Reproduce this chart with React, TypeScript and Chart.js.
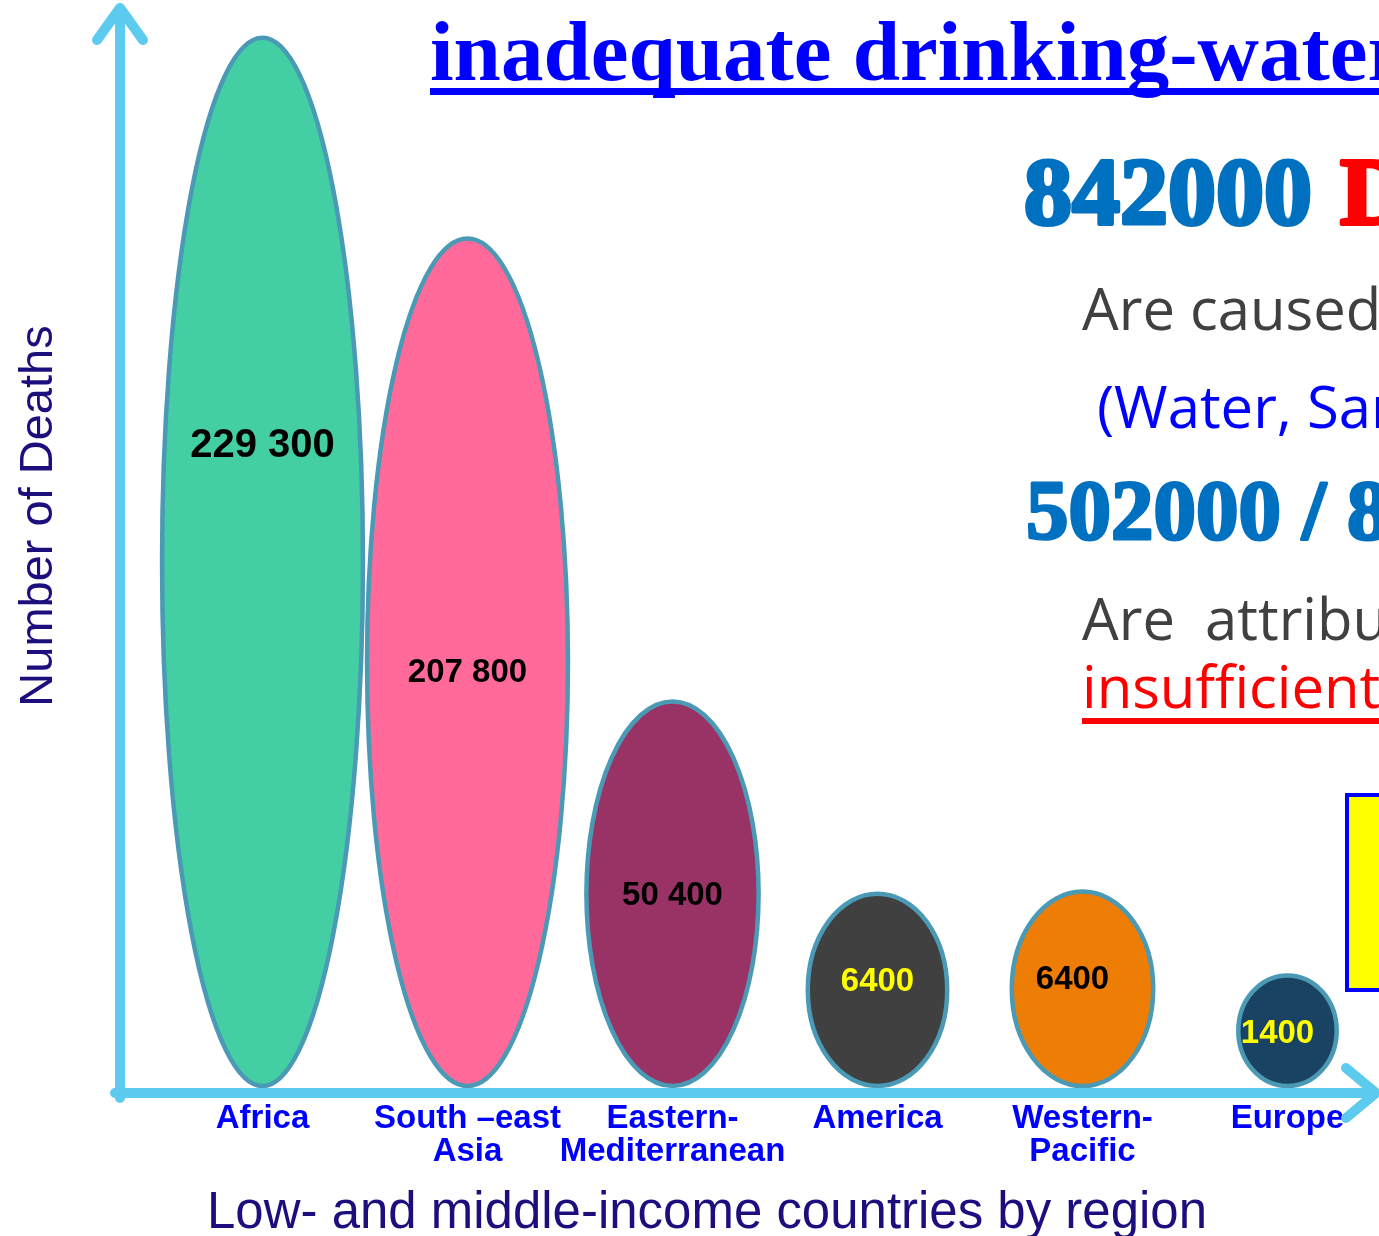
import React, { useEffect, useRef } from 'react';
import { Chart, registerables } from 'chart.js';

Chart.register(...registerables);

// ---- data ----
const regions = ['Africa', 'South –east Asia', 'Eastern-Mediterranean', 'America', 'Western-Pacific', 'Europe'];
const regionTickLabels = [['Africa'], ['South –east', 'Asia'], ['Eastern-', 'Mediterranean'], ['America'], ['Western-', 'Pacific'], ['Europe']];
const deaths = [229300, 207800, 50400, 6400, 6400, 1400];
// visual height of each ellipse (0-100 scale)
const bubbleHeight = [97.6, 78.9, 35.8, 17.9, 18.1, 10.3];

// ---- styles ----
const fillColors = ['#43CFA3', '#FF6A9A', '#993366', '#404040', '#EE7D05', '#1A4262'];
const labelColors = ['#000000', '#000000', '#000000', '#FFFF00', '#000000', '#FFFF00'];
const labelSizes = [40, 33, 33, 33, 33, 33];
const labelDy = [-116, 11, 2, -8, -9, 3];
const labelDx = [0, 0, 0, 0, -10, -10];
const widthShare = [0.98, 0.98, 0.84, 0.68, 0.69, 0.48];
const AXIS_COLOR = '#5DCBEF';
const OUTLINE = '#4A9AB5';
const TITLE_COLOR = '#1D0E7E';

const fmt = (n: number) => (n >= 10000 ? n.toLocaleString('en-US').replace(/,/g, ' ') : String(n));

const heavyText = (ctx: CanvasRenderingContext2D, s: string, x: number, y: number, w: number) => {
  ctx.lineWidth = w;
  ctx.lineJoin = 'round';
  ctx.strokeStyle = ctx.fillStyle as string;
  ctx.strokeText(s, x, y);
  ctx.fillText(s, x, y);
};

const drawPlugin = {
  id: 'infographic',
  afterDatasetsDraw(chart: any) {
    const ctx: CanvasRenderingContext2D = chart.ctx;
    const area = chart.chartArea;
    ctx.save();
    // ellipses
    chart.data.datasets.forEach((ds: any, i: number) => {
      const meta = chart.getDatasetMeta(i);
      meta.data.forEach((el: any, j: number) => {
        if (ds.data[j] == null) return;
        const p = el.getProps(['x', 'y', 'base', 'width'], true);
        const cx = p.x;
        const cy = (p.y + p.base) / 2;
        const rx = p.width / 2;
        const ry = Math.abs(p.base - p.y) / 2;
        ctx.beginPath();
        ctx.ellipse(cx, cy, rx, ry, 0, 0, Math.PI * 2);
        ctx.fillStyle = fillColors[i];
        ctx.fill();
        ctx.lineWidth = 4.5;
        ctx.strokeStyle = OUTLINE;
        ctx.stroke();
      });
    });

    // axes arrows
    const ax = area.left - 40;
    const ay = area.bottom + 7;
    ctx.strokeStyle = AXIS_COLOR;
    ctx.lineWidth = 10;
    ctx.lineCap = 'round';
    ctx.lineJoin = 'round';
    ctx.beginPath();
    ctx.moveTo(ax, ay + 5);
    ctx.lineTo(ax, 8);
    ctx.moveTo(ax - 23, 40);
    ctx.lineTo(ax, 8);
    ctx.lineTo(ax + 23, 40);
    ctx.stroke();
    ctx.beginPath();
    ctx.moveTo(ax - 5, ay);
    ctx.lineTo(1376, ay);
    ctx.moveTo(1346, ay - 25);
    ctx.lineTo(1376, ay);
    ctx.lineTo(1346, ay + 25);
    ctx.stroke();

    // value labels
    ctx.textAlign = 'center';
    ctx.textBaseline = 'middle';
    chart.data.datasets.forEach((ds: any, i: number) => {
      const meta = chart.getDatasetMeta(i);
      const el: any = meta.data[i];
      const p = el.getProps(['x', 'y', 'base'], true);
      ctx.font = `bold ${labelSizes[i]}px "Liberation Sans", Arial, sans-serif`;
      ctx.fillStyle = labelColors[i];
      ctx.fillText(fmt(deaths[i]), p.x + labelDx[i], (p.y + p.base) / 2 + labelDy[i]);
    });

    // axis titles
    ctx.fillStyle = TITLE_COLOR;
    ctx.textBaseline = 'alphabetic';
    ctx.font = '51px "Liberation Sans", Arial, sans-serif';
    ctx.textAlign = 'center';
    ctx.fillText('Low- and middle-income countries by region', 707, 1228, 1000);
    ctx.save();
    ctx.translate(52, 516);
    ctx.rotate(-Math.PI / 2);
    ctx.font = '47px "Liberation Sans", Arial, sans-serif';
    ctx.fillText('Number of Deaths', 0, 0, 383);
    ctx.restore();

    // right panel text
    ctx.textAlign = 'left';
    ctx.fillStyle = '#0000FF';
    ctx.font = 'bold 85px "Liberation Serif", "Times New Roman", serif';
    ctx.fillText('inadequate drinking-water', 430, 80);
    ctx.fillRect(430, 88, 1000, 7);

    ctx.font = 'bold 96px "Liberation Serif", "Times New Roman", serif';
    ctx.fillStyle = '#0070C0';
    const t1 = '842000 ';
    heavyText(ctx, t1, 1024, 224, 4);
    const w1 = ctx.measureText(t1).width;
    ctx.fillStyle = '#FF0000';
    heavyText(ctx, 'D', 1024 + w1 + 4, 224, 4);

    ctx.font = '58px "Open Sans", "Noto Sans", sans-serif';
    ctx.fillStyle = '#404040';
    ctx.fillText('Are caused', 1082, 330);
    ctx.fillStyle = '#0000FF';
    ctx.fillText('(Water, San', 1097, 428);

    ctx.font = 'bold 85px "Liberation Serif", "Times New Roman", serif';
    ctx.fillStyle = '#0070C0';
    heavyText(ctx, '502000 / 8', 1026, 539, 3);

    ctx.font = '58px "Open Sans", "Noto Sans", sans-serif';
    ctx.fillStyle = '#404040';
    ctx.fillText('Are  attribu', 1082, 640);
    ctx.fillStyle = '#FF0000';
    ctx.fillText('insufficient', 1082, 708);
    ctx.fillRect(1082, 718, 400, 6);

    // yellow box
    ctx.fillStyle = '#FFFF00';
    ctx.fillRect(1345, 795, 100, 195);
    ctx.strokeStyle = '#0000FF';
    ctx.lineWidth = 4;
    ctx.lineJoin = 'miter';
    ctx.strokeRect(1347, 795, 100, 195);

    ctx.restore();
  },
};

export default function App() {
  const canvasRef = useRef<HTMLCanvasElement | null>(null);

  useEffect(() => {
    const canvas = canvasRef.current;
    if (!canvas) return;
    const chart = new Chart(canvas, {
      type: 'bar',
      data: {
        labels: regionTickLabels as any,
        datasets: regions.map((r, i) => ({
          label: r,
          data: regions.map((_, j) => (j === i ? bubbleHeight[i] : null)),
          backgroundColor: 'rgba(0,0,0,0)',
          borderWidth: 0,
          barPercentage: widthShare[i],
          categoryPercentage: 1,
          skipNull: true,
        })) as any,
      },
      options: {
        responsive: false,
        animation: false,
        devicePixelRatio: 1,
        layout: { padding: { left: 160, right: 10, top: 12, bottom: 50 } },
        plugins: { legend: { display: false }, tooltip: { enabled: false } },
        scales: {
          x: {
            offset: true,
            grid: { display: false },
            border: { display: false },
            ticks: {
              color: '#0000FF',
              font: { family: '"Liberation Sans", Arial, sans-serif', weight: 'bold', size: 33, lineHeight: 1.0 },
              padding: 8,
              maxRotation: 0,
              autoSkip: false,
            },
            afterFit: (s: any) => {
              s.height = 100;
            },
          },
          y: { display: false, min: 0, max: 100 },
        },
      } as any,
      plugins: [drawPlugin],
    });
    return () => chart.destroy();
  }, []);

  return (
    <div style={{ position: 'absolute', left: 0, top: 0, width: 1379, height: 1236, overflow: 'hidden', background: '#fff' }}>
      <canvas ref={canvasRef} width={1400} height={1236} style={{ display: 'block' }} />
    </div>
  );
}
